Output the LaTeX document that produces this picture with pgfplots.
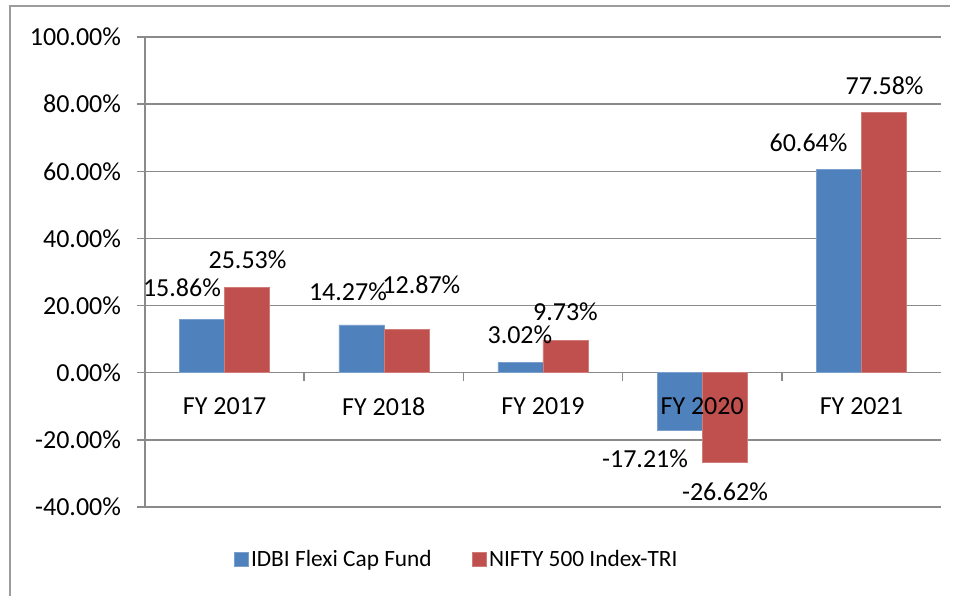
\documentclass[border=0pt]{standalone}
\usepackage{pgfplots}
\pgfplotsset{compat=1.18}
\usepackage{fontspec}
\setmainfont{Carlito}
\definecolor{barblue}{HTML}{4F81BD}
\definecolor{barred}{HTML}{C0504D}
\definecolor{gridgray}{HTML}{8A8A8A}
\begin{document}
\begin{tikzpicture}
\path (0pt,0pt) rectangle (720.75pt,447pt);
\draw[gridgray!85, line width=1.5pt] (7.5pt,0pt) -- (7.5pt,442.5pt) -- (712.5pt,442.5pt);
\begin{axis}[
  at={(108.75pt,66.75pt)}, anchor=south west,
  scale only axis, width=597pt, height=352.5pt,
  ybar=0pt, bar width=33.75pt,
  xmin=-0.5, xmax=4.5, ymin=-40, ymax=100,
  axis y line*=left, axis x line*=middle,
  xtick={0,1,2,3,4},
  xticklabels={FY 2017,FY 2018,FY 2019,FY 2020,FY 2021},
  major x tick style={draw=none},
  ytick={-40,-20,0,20,40,60,80,100},
  yticklabel={\pgfmathprintnumber[fixed,fixed zerofill,precision=2]{\tick}\%},
  /pgf/number format/assume math mode=true,
  tick align=outside,
  major tick length=6pt,
  y tick style={gridgray, line width=1.1pt},
  ymajorgrids,
  major grid style={gridgray, line width=1.1pt},
  axis line style={gridgray, line width=1.1pt},
  every tick label/.append style={font=\fontsize{19.5}{23}\selectfont, text=black},
  yticklabel style={xshift=-8.5pt},
  xticklabel style={yshift=-9pt},
  legend style={draw=none, at={(0.392,-0.111)}, anchor=center,
    legend columns=2, font=\fontsize{17.5}{20}\selectfont,
    /tikz/every even column/.append style={column sep=28pt}},
  legend image code/.code={\fill[#1] (0pt,-5.25pt) rectangle (10.5pt,5.25pt);},
]
\addplot[fill=barblue, draw=barblue!75!white] coordinates {(0,15.86) (1,14.27) (2,3.02) (3,-17.21) (4,60.64)};
\addplot[fill=barred, draw=barred!75!white] coordinates {(0,25.53) (1,12.87) (2,9.73) (3,-26.62) (4,77.58)};
\legend{IDBI Flexi Cap Fund, NIFTY 500 Index-TRI}
\pgfplotsinvokeforeach{0.5,1.5,2.5,3.5}{\draw[gridgray, line width=1.1pt] (axis cs:#1,0) -- ++(0pt,-6pt);}
\begin{scope}[every node/.style={font=\fontsize{19.5}{23}\selectfont, anchor=center}]
\node[yshift=-25.3pt] at (axis cs:3,0) {FY 2020};
\node at (axis cs:-0.268,25.2) {15.86\%};
\node at (axis cs:0.144,33.6) {25.53\%};
\node at (axis cs:0.775,24.0) {14.27\%};
\node at (axis cs:1.236,26.1) {12.87\%};
\node at (axis cs:1.855,11.2) {3.02\%};
\node at (axis cs:2.141,18.1) {9.73\%};
\node at (axis cs:2.641,-25.7) {-17.21\%};
\node at (axis cs:3.143,-35.5) {-26.62\%};
\node at (axis cs:3.668,68.4) {60.64\%};
\node at (axis cs:4.146,85.4) {77.58\%};
\end{scope}
\end{axis}
\end{tikzpicture}
\end{document}
